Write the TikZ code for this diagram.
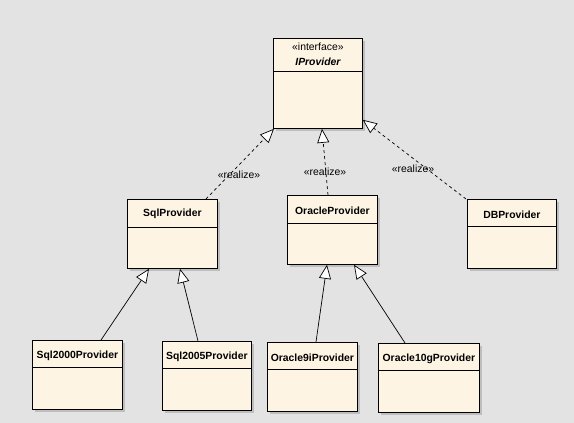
\documentclass[tikz,border=0pt]{standalone}
\usepackage{fontspec}
\setmainfont{Liberation Sans}
\usetikzlibrary{arrows.meta,calc,shadows}
\definecolor{bgcol}{RGB}{227,227,227}
\definecolor{boxfill}{RGB}{253,244,228}
\definecolor{shadowcol}{RGB}{190,190,190}
\begin{document}
\begin{tikzpicture}[x=1pt,y=-1pt,
  cls/.style={draw=black, line width=0.8pt, fill=boxfill, anchor=north west, inner sep=0pt,
    drop shadow={shadow xshift=2.5pt, shadow yshift=-2.5pt, fill=shadowcol, opacity=1}},
  title/.style={font=\fontsize{10.4}{12}\selectfont\bfseries, inner sep=0pt},
  stereo/.style={font=\fontsize{10.4}{12}\selectfont, inner sep=0pt},
  divline/.style={line width=0.8pt},
  realize/.style={draw=black, line width=0.7pt, dash pattern=on 3pt off 3pt, -{Triangle[length=14pt,width=12pt,fill=white,line width=0.7pt]}},
  gen/.style={draw=black, line width=0.7pt, -{Triangle[length=14pt,width=12pt,fill=white,line width=0.7pt]}}
]
\fill[bgcol] (0,0) rectangle (574,423);
\useasboundingbox (0,0) rectangle (574,423);

% IProvider
\node[cls, minimum width=89pt, minimum height=90pt] (ipr) at (273,38) {};
\node[stereo] (iprs) at ($(ipr.north)+(0,9)$) {«interface»};
\node[title, font=\fontsize{10.4}{12}\selectfont\bfseries\itshape] (iprt) at ($(ipr.north)+(0,24)$) {IProvider};
\draw[divline] ($(ipr.north west)+(0,33)$) -- ($(ipr.north east)+(0,33)$);

% SqlProvider
\node[cls, minimum width=90pt, minimum height=69pt] (sql) at (127,199) {};
\node[title] (sqlt) at ($(sql.north)+(0,15)$) {SqlProvider};
\draw[divline] ($(sql.north west)+(0,28)$) -- ($(sql.north east)+(0,28)$);

% OracleProvider
\node[cls, minimum width=90pt, minimum height=69pt] (ora) at (287,195) {};
\node[title] (orat) at ($(ora.north)+(0,16)$) {OracleProvider};
\draw[divline] ($(ora.north west)+(0,28)$) -- ($(ora.north east)+(0,28)$);

% DBProvider
\node[cls, minimum width=89pt, minimum height=69pt] (db) at (467,199) {};
\node[title] (dbt) at ($(db.north)+(0,16)$) {DBProvider};
\draw[divline] ($(db.north west)+(0,27)$) -- ($(db.north east)+(0,27)$);

% Sql2000Provider
\node[cls, minimum width=90pt, minimum height=69pt] (s2000) at (32,340) {};
\node[title] (s2000t) at ($(s2000.north)+(0,16)$) {Sql2000Provider};
\draw[divline] ($(s2000.north west)+(0,27)$) -- ($(s2000.north east)+(0,27)$);

% Sql2005Provider
\node[cls, minimum width=89pt, minimum height=69pt] (s2005) at (162,341) {};
\node[title] (s2005t) at ($(s2005.north)+(0,16)$) {Sql2005Provider};
\draw[divline] ($(s2005.north west)+(0,27)$) -- ($(s2005.north east)+(0,27)$);

% Oracle9iProvider
\node[cls, minimum width=90pt, minimum height=69pt] (o9) at (267,342) {};
\node[title] (o9t) at ($(o9.north)+(0,16)$) {Oracle9iProvider};
\draw[divline] ($(o9.north west)+(0,27)$) -- ($(o9.north east)+(0,27)$);

% Oracle10gProvider
\node[cls, minimum width=101pt, minimum height=69pt] (o10) at (378,343) {};
\node[title] (o10t) at ($(o10.north)+(0,16)$) {Oracle10gProvider};
\draw[divline] ($(o10.north west)+(0,27)$) -- ($(o10.north east)+(0,27)$);

% realizations
\draw[realize] ($(sql.north west)+(79,0)$) -- ($(ipr.south west)+(1,0)$);
\draw[realize] ($(ora.north west)+(41,0)$) -- ($(ipr.south west)+(49,0)$);
\draw[realize] ($(db.north west)+(-1,0)$) -- ($(ipr.south east)+(0,-9)$);
\node[stereo] (r1) at (239,175) {«realize»};
\node[stereo] (r2) at (325,172) {«realize»};
\node[stereo] (r3) at (413,169) {«realize»};

% generalizations
\draw[gen] ($(s2000.north west)+(69,0)$) -- ($(sql.south west)+(22,0)$);
\draw[gen] ($(s2005.north west)+(36,0)$) -- ($(sql.south west)+(53,0)$);
\draw[gen] ($(o9.north west)+(49,0)$) -- ($(ora.south west)+(40,0)$);
\draw[gen] ($(o10.north west)+(27,0)$) -- ($(ora.south west)+(67,0)$);
\end{tikzpicture}
\end{document}
